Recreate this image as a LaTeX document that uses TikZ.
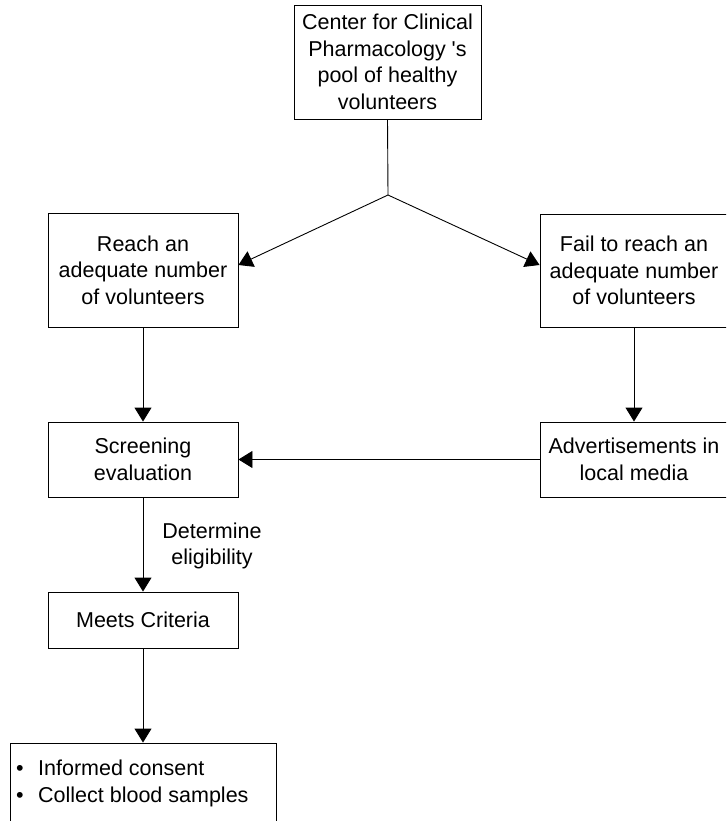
\documentclass[tikz,border=0pt]{standalone}
\usepackage{fontspec}
\newfontfamily\arialfont{Liberation Sans}
\usetikzlibrary{arrows.meta}
\begin{document}
\begin{tikzpicture}[x=1pt,y=-1pt,
  box/.style={draw=black, line width=0.9pt, align=center, inner sep=0pt, font=\arialfont\fontsize{21.5}{26.5}\selectfont},
  conn/.style={draw=black, line width=0.9pt, -{Triangle[length=14pt,width=17pt]}},
  plainline/.style={draw=black, line width=0.9pt},
  lbl/.style={align=center, inner sep=0pt, font=\arialfont\fontsize{21.5}{26.5}\selectfont}]
\clip (0,0) rectangle (726,821);
\node[box, minimum width=187pt, minimum height=114pt] (pool) at (387.5,62) {Center for Clinical\\Pharmacology 's\\pool of healthy\\volunteers};
\node[box, minimum width=190pt, minimum height=114pt] (reach) at (143,270) {Reach an\\adequate number\\of volunteers};
\node[box, minimum width=188pt, minimum height=113pt] (fail) at (634,270.5) {Fail to reach an\\adequate number\\of volunteers};
\node[box, minimum width=190pt, minimum height=75pt] (screen) at (143,459.5) {Screening\\evaluation};
\node[box, minimum width=188pt, minimum height=75pt] (adv) at (634,459.5) {Advertisements in\\local media};
\node[box, minimum width=190pt, minimum height=56pt] (meets) at (143,620) {Meets Criteria};
\node[box, minimum width=266pt, minimum height=100pt] (final) at (143,793) {};
\node[lbl, align=left, anchor=base west] (bul1) at (16,775) {\makebox[22pt][l]{\textbullet}Informed consent};
\node[lbl, align=left, anchor=base west] (bul2) at (16,802) {\makebox[22pt][l]{\textbullet}Collect blood samples};
\node[lbl] (elig) at (212,546) {Determine\\eligibility};
\coordinate (j) at (388,195);
\draw[plainline] (pool.south) -- (j);
\draw[conn] (j) -- ([yshift=5pt]reach.east);
\draw[conn] (j) -- ([yshift=5.5pt]fail.west);
\draw[conn] (reach.south) -- (screen.north);
\draw[conn] (fail.south) -- (adv.north);
\draw[conn] (adv.west) -- (screen.east);
\draw[conn] (screen.south) -- (meets.north);
\draw[conn] (meets.south) -- (final.north);
\end{tikzpicture}
\end{document}
